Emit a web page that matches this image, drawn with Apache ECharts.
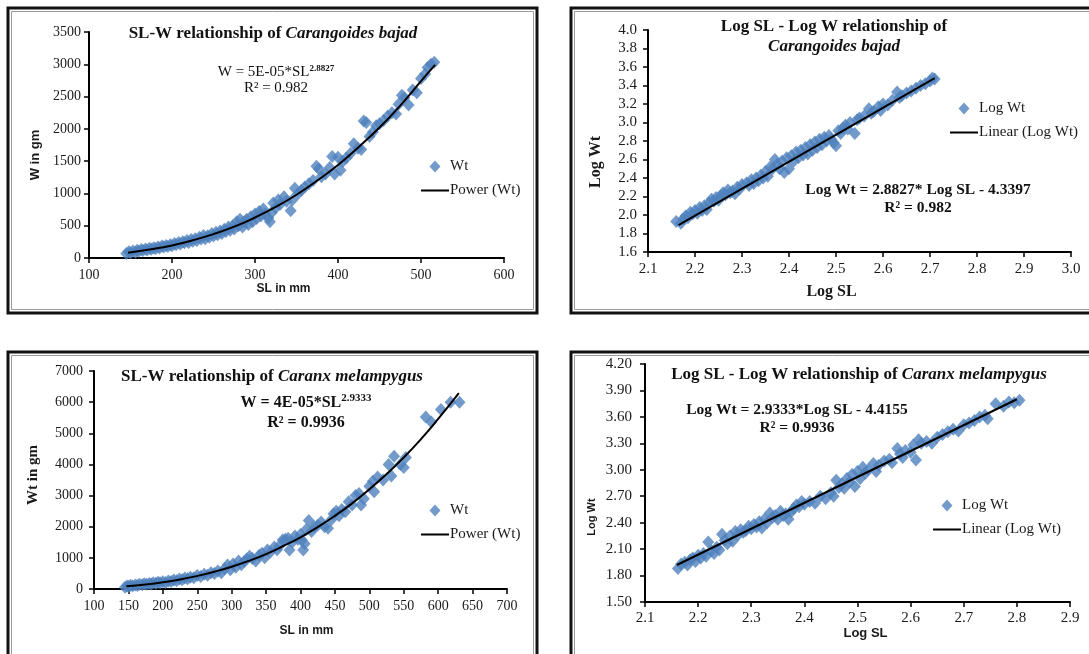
<!DOCTYPE html>
<html>
<head>
<meta charset="utf-8">
<script src="https://cdn.jsdelivr.net/npm/echarts@6/dist/echarts.min.js"></script>
<style>
html, body { margin: 0; padding: 0; background: #fff; }
#chart { width: 1089px; height: 654px; }
</style>
</head>
<body>
<div id="chart"></div>
<script>
// Carangoides bajad: SL (mm) vs W (gm)
const bajadPuntos = [
  [145,70],[148,95],[150,80],[153,110],[156,90],[158,120],[160,105],[163,130],[165,115],[168,140],
  [170,125],[173,150],[175,135],[178,160],[180,145],[183,170],[185,155],[188,185],[190,170],[193,195],
  [195,180],[198,205],[200,190],[203,225],[205,205],[208,240],[210,215],[213,250],[215,235],[218,270],
  [220,240],[223,285],[225,260],[228,300],[230,270],[233,320],[235,295],[238,350],[240,300],[243,345],
  [245,320],[248,380],[250,340],[253,400],[255,360],[258,420],[260,380],[263,445],[265,410],[268,480],
  [270,430],[273,500],[275,450],[278,560],[280,500],[282,600],[285,480],[287,560],[290,600],[292,520],
  [295,640],[297,560],[300,680],[302,610],[305,720],[307,650],[310,760],[312,680],[316,620],[318,560],
  [320,700],[322,850],[325,780],[328,900],[330,830],[335,950],[338,880],[343,730],[345,900],[348,1080],
  [352,1000],[356,1050],[360,1100],[365,1150],[370,1200],[374,1420],[377,1380],[380,1260],[385,1300],[390,1400],
  [393,1570],[396,1300],[400,1560],[403,1360],[406,1500],[410,1550],[415,1620],[419,1770],[424,1700],[428,1680],
  [431,2120],[434,2100],[438,1880],[442,1950],[446,2050],[450,2080],[455,2130],[460,2200],[465,2250],[470,2230],
  [473,2380],[477,2520],[480,2480],[485,2370],[490,2600],[495,2560],[500,2780],[505,2850],[508,2950],[512,3000],
  [516,3030]
];
const bajadPotencia = [
  [147,82],[175,135],[200,195],[225,275],[250,370],[275,485],[300,627],[325,790],
  [350,980],[375,1200],[400,1440],[425,1720],[450,2020],[475,2360],[500,2740],[517,2990]
];

// Carangoides bajad: Log SL vs Log Wt
const bajadLog = [
  [2.16,1.93],[2.17,1.91],[2.175,1.96],[2.18,1.99],[2.185,1.97],[2.19,2.03],[2.195,2.01],[2.20,2.05],[2.205,2.02],[2.21,2.08],
  [2.215,2.05],[2.22,2.10],[2.225,2.06],[2.23,2.13],[2.235,2.17],[2.24,2.15],[2.245,2.19],[2.25,2.16],[2.255,2.21],[2.26,2.24],
  [2.265,2.22],[2.27,2.27],[2.275,2.24],[2.28,2.26],[2.285,2.23],[2.29,2.30],[2.295,2.28],[2.30,2.33],[2.31,2.35],[2.315,2.32],
  [2.32,2.38],[2.325,2.34],[2.33,2.40],[2.335,2.37],[2.34,2.43],[2.345,2.40],[2.35,2.47],[2.355,2.42],[2.36,2.52],[2.365,2.50],
  [2.37,2.60],[2.375,2.55],[2.38,2.50],[2.385,2.58],[2.39,2.46],[2.395,2.62],[2.40,2.50],[2.405,2.64],[2.41,2.58],[2.415,2.68],
  [2.42,2.62],[2.425,2.70],[2.43,2.65],[2.435,2.73],[2.44,2.66],[2.445,2.76],[2.45,2.70],[2.455,2.79],[2.46,2.73],[2.465,2.82],
  [2.47,2.76],[2.475,2.84],[2.48,2.80],[2.485,2.86],[2.49,2.82],[2.495,2.78],[2.50,2.75],[2.505,2.91],[2.51,2.88],[2.515,2.94],
  [2.52,2.97],[2.525,2.93],[2.53,3.00],[2.54,2.88],[2.545,3.03],[2.55,3.05],[2.56,3.07],[2.57,3.15],[2.575,3.10],[2.58,3.12],
  [2.59,3.17],[2.595,3.13],[2.60,3.20],[2.61,3.19],[2.62,3.24],[2.63,3.33],[2.635,3.27],[2.64,3.29],[2.65,3.32],[2.66,3.34],
  [2.67,3.37],[2.68,3.40],[2.69,3.42],[2.70,3.45],[2.705,3.48],[2.71,3.47]
];
const bajadLineal = [[2.165,1.89],[2.71,3.48]];

// Caranx melampygus: SL (mm) vs Wt (gm)
const melamPuntos = [
  [145,60],[148,100],[150,80],[153,120],[156,95],[160,130],[163,110],[166,150],[170,135],[173,165],
  [176,150],[180,180],[183,160],[186,200],[190,185],[193,215],[196,200],[200,230],[204,210],[208,260],
  [212,240],[216,290],[220,265],[224,320],[228,295],[232,350],[236,330],[240,380],[245,360],[250,430],
  [255,400],[260,470],[265,440],[270,520],[275,500],[280,580],[285,520],[290,650],[294,770],[298,620],
  [302,800],[306,700],[310,900],[314,780],[318,880],[322,960],[326,1050],[330,980],[335,900],[340,1080],
  [344,1150],[348,1000],[352,1250],[356,1180],[362,1350],[366,1260],[370,1400],[374,1570],[378,1600],[382,1630],
  [384,1250],[388,1500],[392,1700],[396,1600],[400,1750],[402,1570],[404,1250],[406,1450],[408,1900],[412,2200],
  [416,1850],[420,2000],[425,2050],[430,2150],[435,2000],[440,1950],[445,2230],[448,2420],[452,2500],[456,2350],
  [460,2550],[465,2480],[470,2800],[475,2700],[480,3000],[485,3070],[488,2700],[492,2900],[500,3300],[505,3460],
  [507,3120],[512,3600],[520,3500],[528,4000],[532,3630],[536,4260],[545,4000],[550,3900],[553,4220],[582,5520],
  [590,5360],[604,5760],[618,6000],[631,6000]
];
const melamPotencia = [
  [147,88],[175,145],[200,217],[225,305],[250,419],[275,555],[300,716],[325,905],[350,1122],[375,1380],
  [400,1660],[425,1985],[450,2350],[475,2750],[500,3200],[525,3690],[550,4220],[575,4810],[600,5460],[630,6290]
];

// Caranx melampygus: Log SL vs Log Wt
const melamLog = [
  [2.162,1.88],[2.168,1.93],[2.175,1.95],[2.18,1.92],[2.185,1.98],[2.19,2.00],[2.195,1.96],[2.20,2.03],[2.205,2.00],[2.21,2.05],
  [2.215,2.02],[2.219,2.18],[2.225,2.08],[2.23,2.05],[2.235,2.12],[2.24,2.09],[2.245,2.27],[2.25,2.20],[2.255,2.16],[2.26,2.25],
  [2.265,2.19],[2.27,2.30],[2.275,2.26],[2.28,2.32],[2.285,2.29],[2.29,2.31],[2.295,2.36],[2.30,2.33],[2.305,2.38],[2.31,2.35],
  [2.315,2.41],[2.32,2.34],[2.325,2.44],[2.33,2.40],[2.335,2.51],[2.34,2.46],[2.345,2.48],[2.35,2.44],[2.355,2.53],[2.36,2.48],
  [2.365,2.50],[2.37,2.44],[2.375,2.52],[2.38,2.56],[2.385,2.60],[2.39,2.58],[2.395,2.64],[2.40,2.61],[2.41,2.64],[2.42,2.62],
  [2.43,2.70],[2.44,2.67],[2.45,2.74],[2.455,2.70],[2.46,2.88],[2.465,2.80],[2.47,2.84],[2.475,2.79],[2.48,2.90],[2.485,2.86],
  [2.49,2.95],[2.495,2.81],[2.50,2.98],[2.505,2.90],[2.51,3.03],[2.515,2.96],[2.52,3.00],[2.53,3.07],[2.535,2.98],[2.54,3.05],
  [2.55,3.10],[2.56,3.12],[2.565,3.08],[2.575,3.24],[2.58,3.18],[2.585,3.14],[2.59,3.22],[2.60,3.20],[2.605,3.28],[2.61,3.11],
  [2.615,3.34],[2.62,3.30],[2.63,3.32],[2.64,3.30],[2.65,3.37],[2.66,3.40],[2.67,3.43],[2.68,3.46],[2.69,3.44],[2.70,3.51],
  [2.71,3.53],[2.72,3.56],[2.73,3.60],[2.74,3.62],[2.745,3.58],[2.76,3.75],[2.775,3.72],[2.785,3.77],[2.795,3.76],[2.805,3.79]
];
const melamLineal = [[2.16,1.92],[2.80,3.80]];

// ejes: [min, max, intervalo, decimales]
const ejesX = [[100, 600, 100, 0], [2.1, 3.0, 0.1, 1], [100, 700, 50, 0], [2.1, 2.9, 0.1, 1]];
const ejesY = [[0, 3500, 500, 0], [1.6, 4.0, 0.2, 1], [0, 7000, 1000, 0], [1.5, 4.2, 0.3, 2]];

const serif = 'Liberation Serif';
const sans = 'Liberation Sans';
const azul = '#4F81BD';

const grids = [
  { left: 89, top: 32, width: 415, height: 226 },
  { left: 648, top: 30, width: 423, height: 222 },
  { left: 94, top: 371, width: 413, height: 218 },
  { left: 645, top: 364, width: 425, height: 238 }
];

// nombres de los ejes (pad desplaza el texto a lo largo del eje)
const nombresX = [
  { name: 'SL in mm', gap: 25, pad: [0, 26, 0, 0], font: { fontFamily: sans, fontWeight: 'bold', fontSize: 12 } },
  { name: 'Log SL', gap: 32, pad: [0, 56, 0, 0], font: { fontFamily: serif, fontWeight: 'bold', fontSize: 16 } },
  { name: 'SL in mm', gap: 36, pad: [0, 0, 0, 12], font: { fontFamily: sans, fontWeight: 'bold', fontSize: 12 } },
  { name: 'Log SL', gap: 24, pad: [0, 0, 0, 16], font: { fontFamily: sans, fontWeight: 'bold', fontSize: 13 } }
];
const nombresY = [
  { name: 'W in gm', gap: 47, pad: [0, 20, 0, 0], font: { fontFamily: sans, fontWeight: 'bold', fontSize: 13 } },
  { name: 'Log Wt', gap: 44, pad: [0, 42, 0, 0], font: { fontFamily: serif, fontWeight: 'bold', fontSize: 16 } },
  { name: 'Wt in gm', gap: 53, pad: [0, 0, 0, 10], font: { fontFamily: serif, fontWeight: 'bold', fontSize: 15 } },
  { name: 'Log Wt', gap: 48, pad: [0, 68, 0, 0], font: { fontFamily: sans, fontWeight: 'bold', fontSize: 11 } }
];
const margenesX = [10, 10, 10, 9];
const margenesY = [8, 11, 11, 13];
const letrasEje = [14, 15, 14, 15];

function eje(i, conf, nombre, margen) {
  return {
    type: 'value',
    gridIndex: i,
    min: conf[0],
    max: conf[1],
    interval: conf[2],
    name: nombre.name,
    nameLocation: 'middle',
    nameGap: nombre.gap,
    nameTextStyle: Object.assign({ color: '#1a1a1a', padding: nombre.pad }, nombre.font),
    axisLine: { show: true, onZero: false, lineStyle: { color: '#000', width: 2 } },
    axisTick: { show: true, length: 5, lineStyle: { color: '#000', width: 1.5 } },
    splitLine: { show: false },
    axisLabel: {
      fontFamily: serif, fontSize: letrasEje[i], color: '#1a1a1a', margin: margen,
      formatter: v => v.toFixed(conf[3])
    }
  };
}

const xAxis = ejesX.map((c, i) => eje(i, c, nombresX[i], margenesX[i]));
const yAxis = ejesY.map((c, i) => eje(i, c, nombresY[i], margenesY[i]));

function puntos(name, i, data) {
  return {
    type: 'scatter', name, xAxisIndex: i, yAxisIndex: i, data,
    symbol: 'diamond', symbolSize: [12, 13],
    itemStyle: { color: azul }, z: 2
  };
}
function tendencia(name, i, data, smooth) {
  return {
    type: 'line', name, xAxisIndex: i, yAxisIndex: i, data, smooth,
    symbol: 'none', showSymbol: false,
    lineStyle: { color: '#000', width: 2 }, itemStyle: { color: '#000' }, z: 3
  };
}

const series = [
  puntos('Wt', 0, bajadPuntos), tendencia('Power (Wt)', 0, bajadPotencia, true),
  puntos('Log Wt', 1, bajadLog), tendencia('Linear (Log Wt)', 1, bajadLineal, false),
  puntos('Wt', 2, melamPuntos), tendencia('Power (Wt)', 2, melamPotencia, true),
  puntos('Log Wt', 3, melamLog), tendencia('Linear (Log Wt)', 3, melamLineal, false)
];

// rombo centrado en una caja de 28x12 (los dos triángulos mínimos fijan la caja)
const iconoRombo = 'path://M0,0 L0.01,0 L0,0.01 Z M28,12 L27.99,12 L28,11.99 Z M14,0 L19.5,6 L14,12 L8.5,6 Z';

function leyenda(left, top, nPuntos, nLinea) {
  return {
    left, top, orient: 'vertical', selectedMode: false,
    itemWidth: 28, itemHeight: 12, itemGap: 9,
    data: [
      { name: nPuntos, icon: iconoRombo },
      { name: nLinea, itemStyle: { opacity: 0 } }
    ],
    textStyle: { fontFamily: serif, fontSize: 15, color: '#1a1a1a', padding: [0, 0, 0, -4] }
  };
}

const negrita = { fontFamily: serif, fontWeight: 'bold', color: '#111' };
function rico(extra) { return Object.assign({}, negrita, extra); }

const titulos = [
  { left: 273, top: 25, text: '{a|SL-W relationship of }{b|Carangoides bajad}',
    rich: { a: rico({ fontSize: 17 }), b: rico({ fontSize: 17, fontStyle: 'italic' }) } },
  { left: 276, top: 64, text: '{e|W = 5E-05*SL}{s|2.8827}\n{e|R² = 0.982}',
    rich: { e: { fontFamily: serif, fontWeight: 'normal', fontSize: 15, color: '#111', lineHeight: 16 },
            s: { fontFamily: serif, fontSize: 9, fontWeight: 'bold', color: '#111', lineHeight: 8, verticalAlign: 'top' } } },
  { left: 834, top: 17, text: '{a|Log SL - Log W relationship of}\n{b|Carangoides bajad}',
    rich: { a: rico({ fontSize: 17, lineHeight: 20 }), b: rico({ fontSize: 17, fontStyle: 'italic', lineHeight: 20 }) } },
  { left: 918, top: 181, text: '{a|Log Wt = 2.8827* Log SL - 4.3397}\n{a|R² = 0.982}',
    rich: { a: rico({ fontSize: 15.5, lineHeight: 18 }) } },
  { left: 272, top: 368, text: '{a|SL-W relationship of }{b|Caranx melampygus}',
    rich: { a: rico({ fontSize: 17, lineHeight: 18 }), b: rico({ fontSize: 17, fontStyle: 'italic', lineHeight: 18 }) } },
  { left: 306, top: 393, text: '{e|W = 4E-05*SL}{s|2.9333}\n{e|R² = 0.9936}',
    rich: { e: rico({ fontSize: 16, lineHeight: 20 }), s: rico({ fontSize: 11, lineHeight: 9, verticalAlign: 'top' }) } },
  { left: 859, top: 366, text: '{a|Log SL - Log W relationship of }{b|Caranx melampygus}',
    rich: { a: rico({ fontSize: 17, lineHeight: 18 }), b: rico({ fontSize: 17, fontStyle: 'italic', lineHeight: 18 }) } },
  { left: 797, top: 401, text: '{a|Log Wt = 2.9333*Log SL - 4.4155}\n{a|R² = 0.9936}',
    rich: { a: rico({ fontSize: 15.5, lineHeight: 18 }) } }
].map(t => ({
  left: t.left, top: t.top, textAlign: 'center', padding: 0,
  text: t.text, textStyle: { fontWeight: 'normal', rich: t.rich }
}));

// marcos dobles alrededor de cada gráfico
function marco(x, y, w, h) {
  return [
    { type: 'rect', shape: { x, y, width: w, height: h }, style: { fill: 'none', stroke: '#111', lineWidth: 3 } },
    { type: 'rect', shape: { x: x + 3.5, y: y + 3.5, width: w - 7, height: h - 7 }, style: { fill: 'none', stroke: '#999', lineWidth: 1 } }
  ];
}

const opciones = {
  animation: false,
  backgroundColor: '#fff',
  title: titulos,
  grid: grids,
  xAxis,
  yAxis,
  legend: [
    leyenda(415, 154, 'Wt', 'Power (Wt)'),
    leyenda(944, 96, 'Log Wt', 'Linear (Log Wt)'),
    leyenda(415, 498, 'Wt', 'Power (Wt)'),
    leyenda(927, 493, 'Log Wt', 'Linear (Log Wt)')
  ],
  graphic: [].concat(
    marco(8, 8, 529, 305),
    marco(571, 8, 540, 305),
    marco(8, 352, 529, 320),
    marco(571, 352, 540, 320)
  ),
  series
};

const miGrafico = echarts.init(document.getElementById('chart'));
miGrafico.setOption(opciones);
</script>
</body>
</html>
